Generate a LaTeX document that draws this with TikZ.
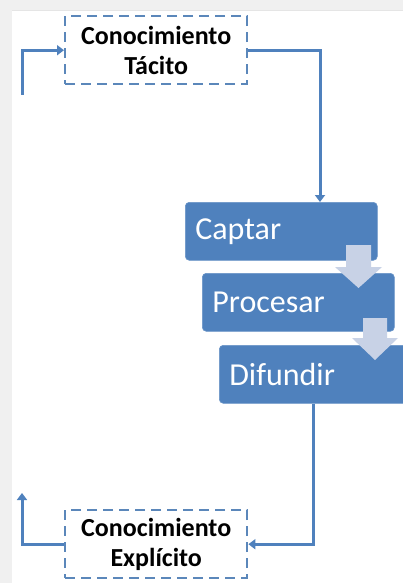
\documentclass[tikz,border=0pt]{standalone}
\usepackage{fontspec}
\setmainfont{Carlito}
\usetikzlibrary{arrows.meta}
\definecolor{boxblue}{HTML}{4F81BD}
\definecolor{linblue}{HTML}{4F81BD}
\definecolor{dashblue}{HTML}{5B87BA}
\definecolor{chev}{HTML}{C8D2E6}
\definecolor{bggray}{HTML}{F0F0F0}
\begin{document}
\begin{tikzpicture}[x=1pt,y=-1pt,
  dbox/.style={draw=dashblue, line width=2.4pt, dash pattern=on 10pt off 6pt,
    fill=white, minimum width=182pt, minimum height=68pt, inner sep=0pt,
    align=center, font=\fontsize{26}{30}\selectfont\bfseries, text=black, anchor=north west},
  stepbox/.style={draw=boxblue!85!white, line width=0.6pt, fill=boxblue, rounded corners=4pt,
    minimum height=58pt, inner xsep=10pt, inner ysep=0pt, align=left,
    font=\fontsize{32}{38}\selectfont, text=white, anchor=north west},
  conn/.style={draw=linblue, line width=3pt, -{Triangle[length=7pt,width=10pt]}},
  chevarrow/.style={fill=chev, draw=none}
]
\useasboundingbox (0,0) rectangle (403,583);
\fill[bggray] (0,0) rectangle (403,583);
\fill[white] (12,10) rectangle (403,583);
\draw[black!10, line width=0.8pt] (12,10) -- (403,10);

\node[dbox] (tac) at (64,15) {Conocimiento\\Tácito};
\node[dbox] (exp) at (64,509) {Conocimiento\\Explícito};

\node[stepbox, text width=172pt] (cap) at (185,202) {Captar};
\node[stepbox, text width=172pt] (pro) at (202,273) {Procesar};
\node[stepbox, text width=200pt] (dif) at (219,345) {Difundir};

\fill[chevarrow] (346,245) -- (371,245) -- (371,267) -- (382,267) -- (358.5,288) -- (335,267) -- (346,267) -- cycle;
\fill[chevarrow] (363,318) -- (387,318) -- (387,338) -- (398,338) -- (375,360) -- (352,338) -- (363,338) -- cycle;

\coordinate (s1) at (22,95);
\coordinate (e1) at (22,493);
\draw[conn] (s1) |- (tac.west);
\draw[conn] (tac.east) -| ([xshift=135pt]cap.north west);
\draw[conn] ([xshift=94pt]dif.south west) |- (exp.east);
\draw[conn] (exp.west) -| (e1);
\end{tikzpicture}
\end{document}
